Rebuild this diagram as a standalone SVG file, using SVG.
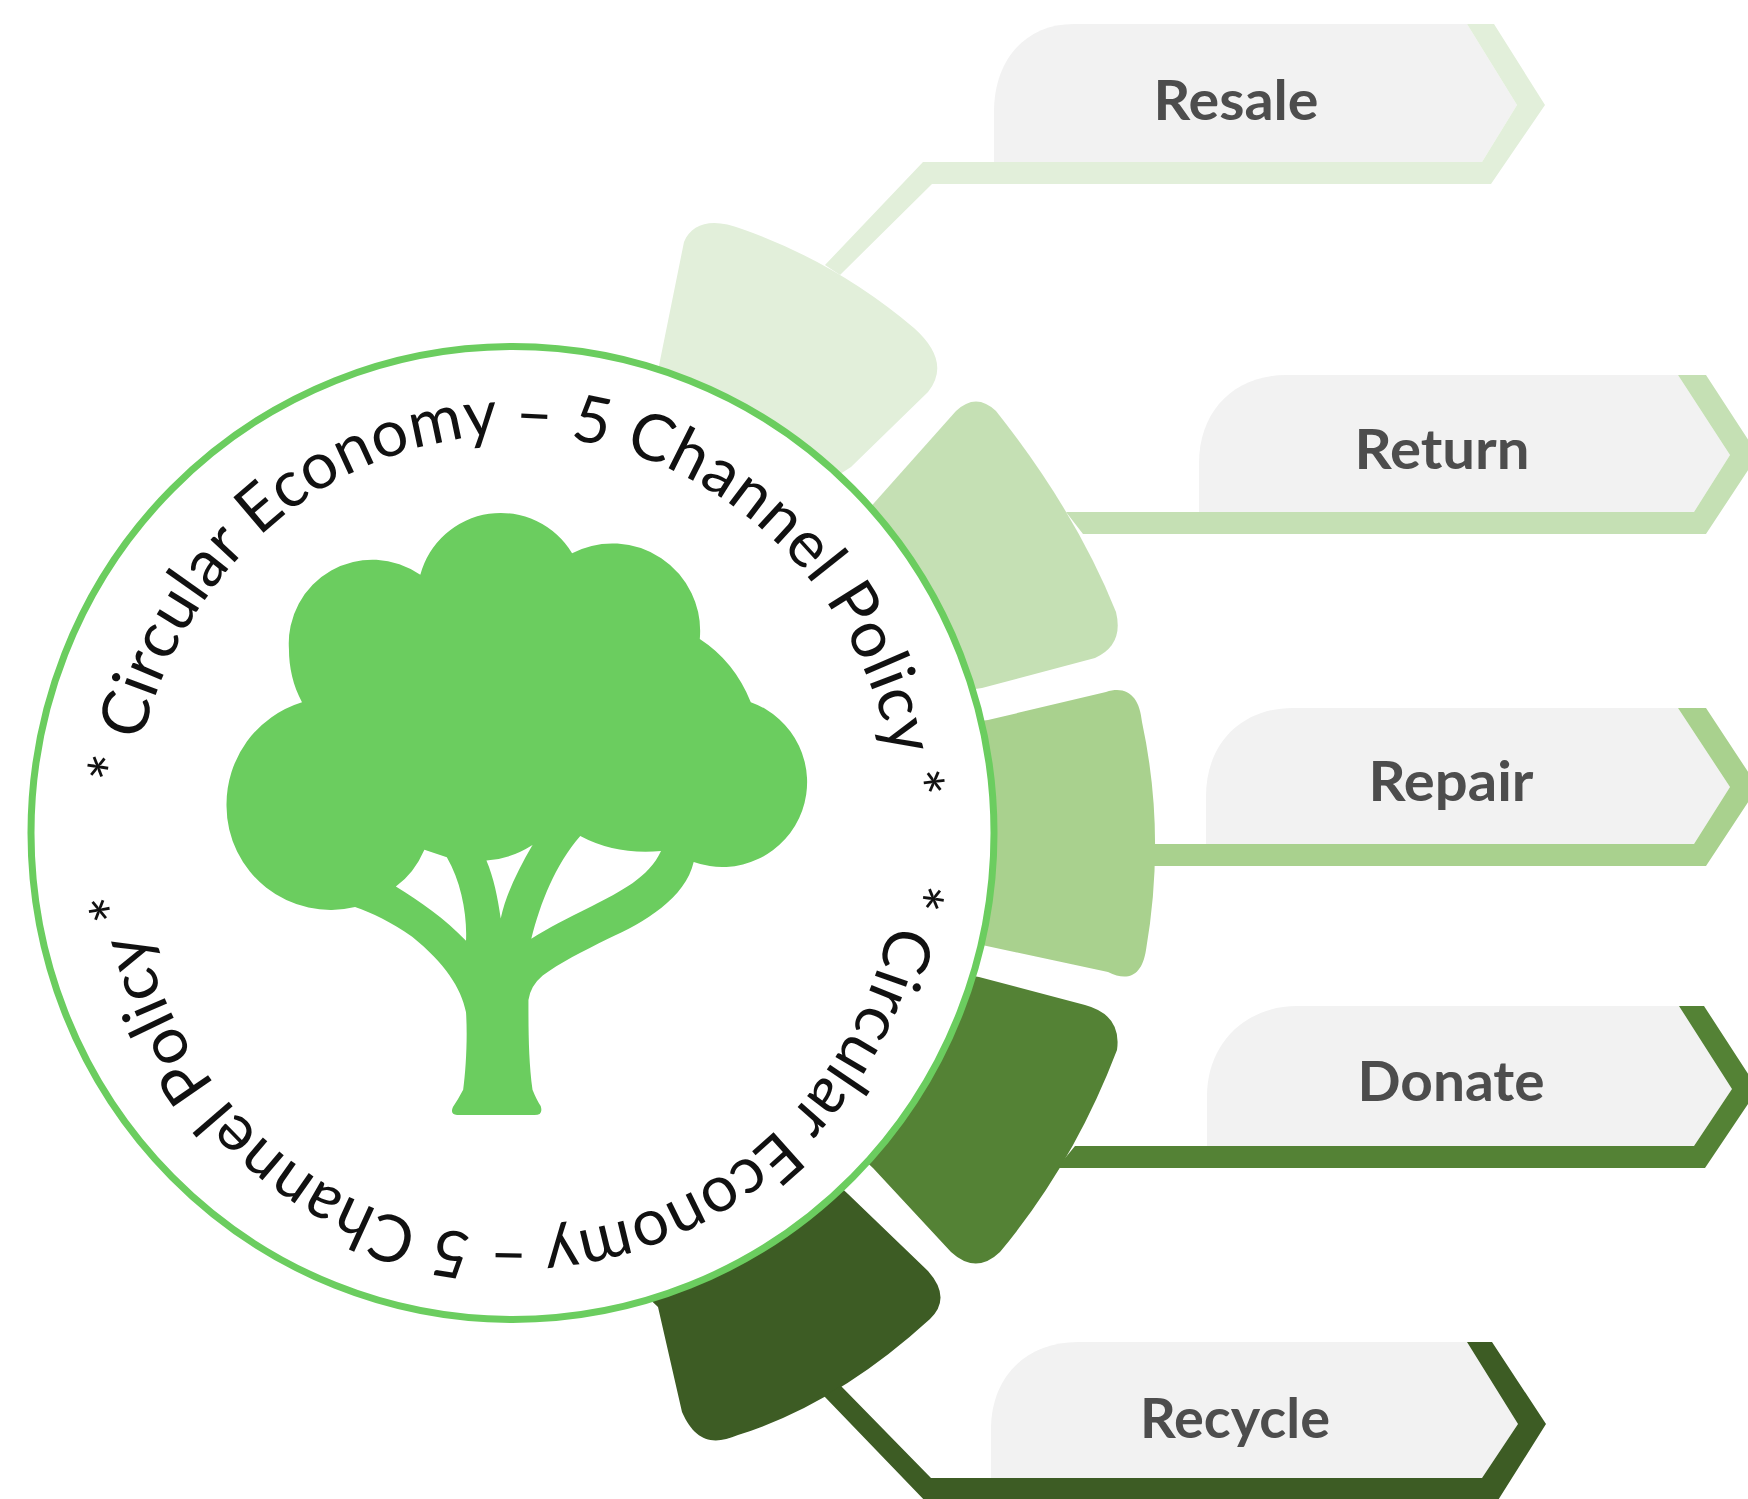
<svg xmlns="http://www.w3.org/2000/svg" width="1748" height="1499" viewBox="0 0 1748 1499">
<style>
.gray{fill:#F2F2F2}
.lbl{font-family:"Lato","Liberation Sans",sans-serif;font-weight:700;font-size:55px;fill:#4D4D4D;text-anchor:middle}
.ring{font-family:"Lato","Liberation Sans",sans-serif;font-size:65px;fill:#111111}
.c1{fill:#E2EFDA}.c2{fill:#C5E0B4}.c3{fill:#A9D18E}.c4{fill:#548235}.c5{fill:#3D5C24}
</style>
<defs>
<path id="arcTop" d="M134 786A384 402 0 1 1 848 1037"/>
<path id="arcBot" d="M897 880A384 402 0 1 1 182 635"/>
</defs>
<rect width="1748" height="1499" fill="#FFFFFF"/>
<g id="node-resale">
<path class="c1" d="M648 420L684 242C692 222 714 218 742 229Q836 262 914 328Q952 362 928 392L851 467L800 500Z"/>
<path class="gray" d="M994 162V112C994 60 1025 24 1074 24H1467L1517 105L1482 162Z"/>
<text class="lbl" x="1236" y="120" textLength="165" lengthAdjust="spacingAndGlyphs">Resale</text>
</g>
<g id="node-return">
<path class="c2" d="M850 530L956 411Q976 392 996 411Q1076 512 1116 612Q1124 645 1095 658L982 688L900 700Z"/>
<path class="gray" d="M1199 512V463C1199 411 1234 375 1286 375H1678L1730 455L1694 512Z"/>
<text class="lbl" x="1442" y="469" textLength="175" lengthAdjust="spacingAndGlyphs">Return</text>
</g>
<g id="node-repair">
<path class="c3" d="M950 725L988 720L1106 692C1128 685 1140 698 1142 722Q1166 834 1146 950C1142 976 1128 982 1108 972L982 945L950 945Z"/>
<path class="gray" d="M1206 844V796C1206 744 1241 708 1293 708H1678L1730 787L1694 844Z"/>
<text class="lbl" x="1451" y="801" textLength="165" lengthAdjust="spacingAndGlyphs">Repair</text>
</g>
<g id="node-donate">
<path class="c4" d="M940 970L979 977L1085 1005Q1122 1015 1117 1050Q1074 1163 1000 1252Q976 1275 951 1252L873 1168L800 1100Z"/>
<path class="gray" d="M1207 1146V1096C1207 1044 1245 1006 1297 1006H1679L1732 1089L1694 1146Z"/>
<text class="lbl" x="1451" y="1101" textLength="187" lengthAdjust="spacingAndGlyphs">Donate</text>
</g>
<g id="node-recycle">
<path class="c5" d="M800 1150L848 1194L928 1271Q952 1298 930 1319Q837 1404 738 1435C712 1446 695 1441 682 1412L658 1307L640 1290Z"/>
<path class="gray" d="M991 1478V1429C991 1377 1026 1342 1078 1342H1467L1518 1424L1482 1478Z"/>
<text class="lbl" x="1235" y="1438" textLength="190" lengthAdjust="spacingAndGlyphs">Recycle</text>
</g>
<g id="connectors">
<path class="c1" d="M825 265L923 162H1482L1517 105L1467 24H1494L1545 105L1491 184H932L840 275Z"/>
<path class="c2" d="M1066 512H1694L1730 455L1678 375H1706L1758 455L1706 534H1083Z"/>
<path class="c3" d="M1153 844H1694L1730 787L1678 708H1706L1758 787L1706 866H1153Z"/>
<path class="c4" d="M1075 1146H1694L1732 1089L1679 1006H1704L1758 1089L1705 1168H1057Z"/>
<path class="c5" d="M841 1386L931 1478H1482L1518 1424L1467 1342H1492L1546 1424L1495 1505H929L824 1396Z"/>
</g>
<g id="hub">
<ellipse cx="512.5" cy="833" rx="481.5" ry="486.5" fill="#FFFFFF" stroke="#6BCD5F" stroke-width="7"/>
<text class="ring" letter-spacing=".45"><textPath href="#arcTop">* Circular Economy – 5 Channel Policy *</textPath></text>
<text class="ring" letter-spacing=".1"><textPath href="#arcBot">* Circular Economy – 5 Channel Policy *</textPath></text>
<path transform="translate(200 490) scale(.408)" fill="#6BCD5F" fill-rule="evenodd" d="M630 1532Q612 1530 620 1512Q632 1495 645 1470C652 1420 656 1340 652 1280C640 1220 600 1160 520 1095C470 1060 420 1035 380 1022A255 255 0 0 1 65 775A262 262 0 0 1 250 520C228 480 218 435 218 390A205 205 0 0 1 540 208A204 204 0 0 1 912 155A215 215 0 0 1 1225 365Q1310 420 1350 520A205 205 0 0 1 1210 912C1190 1000 1090 1060 1000 1100C940 1130 880 1160 840 1190Q810 1215 805 1250C805 1320 805 1400 815 1470Q825 1495 835 1510Q842 1532 820 1532ZM550 882L605 900C640 960 655 1040 652 1105C600 1050 540 1010 480 972Q525 940 550 882ZM702 908Q760 905 815 870C780 930 750 990 737 1050C730 1000 720 950 702 908ZM932 848Q1020 895 1130 885C1100 950 1030 985 960 1020C900 1050 850 1075 812 1100C835 1010 870 920 932 848Z"/>
</g>
</svg>
